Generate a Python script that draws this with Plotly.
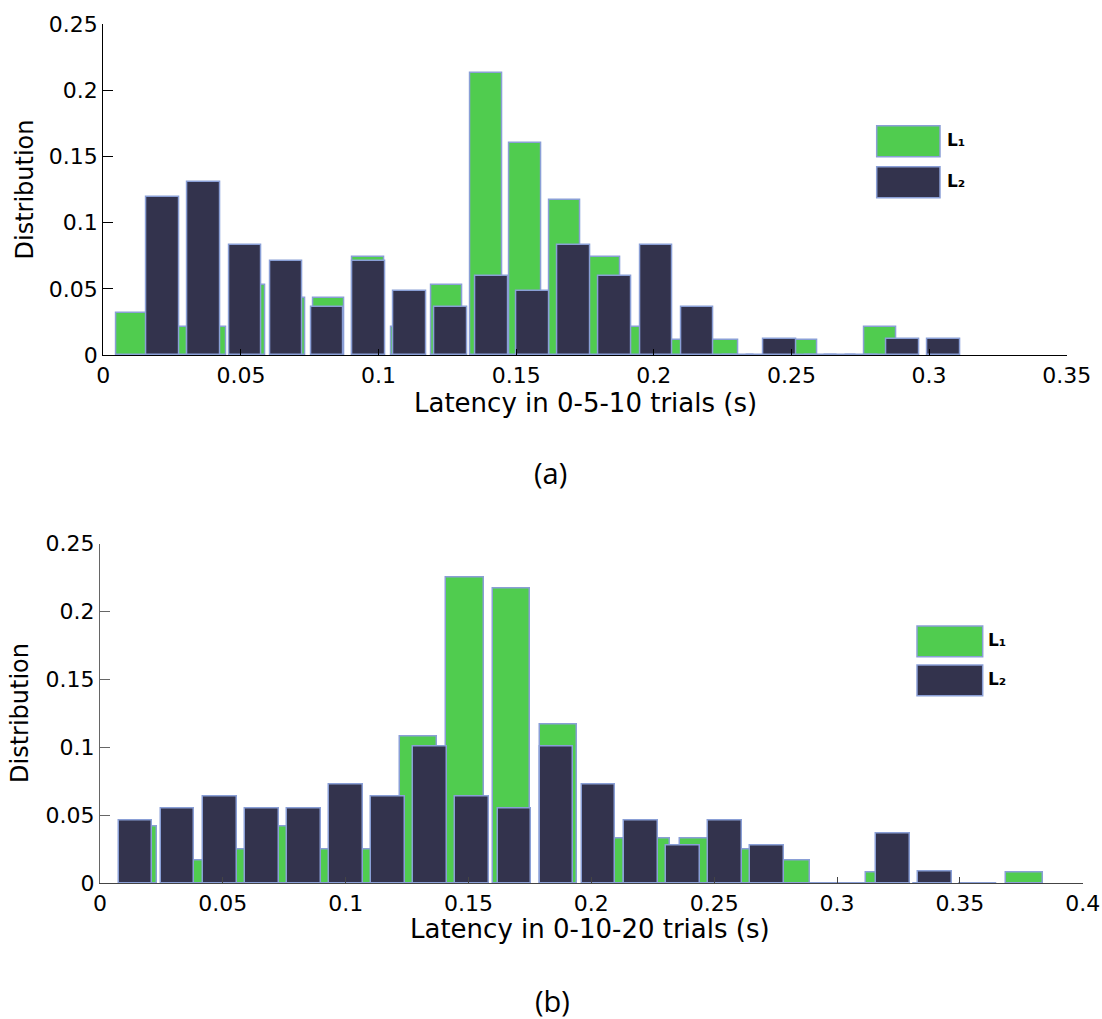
import plotly.graph_objects as go

# ---------------- data ----------------
# (a) Latency in 0-5-10 trials
a_L1_x = [0.0104, 0.0247, 0.0390, 0.0533, 0.0676, 0.0819, 0.0962, 0.1105, 0.1248, 0.1391,
          0.1534, 0.1677, 0.1820, 0.1963, 0.2106, 0.2249, 0.2392, 0.2535, 0.2678, 0.2822]
a_L1_y = [0.032, 0.021, 0.021, 0.053, 0.043, 0.043, 0.074, 0.021, 0.053, 0.213,
          0.160, 0.117, 0.074, 0.021, 0.011, 0.011, 0.0, 0.011, 0.0, 0.021]
a_L2_x = [0.0217, 0.0366, 0.0516, 0.0665, 0.0814, 0.0964, 0.1113, 0.1262, 0.1411, 0.1561,
          0.1710, 0.1859, 0.2009, 0.2158, 0.2307, 0.2457, 0.2606, 0.2755, 0.2905, 0.3054]
a_L2_y = [0.119, 0.131, 0.083, 0.071, 0.036, 0.071, 0.048, 0.036, 0.060, 0.048,
          0.083, 0.060, 0.083, 0.036, 0.0, 0.012, 0.0, 0.0, 0.012, 0.012]

# (b) Latency in 0-10-20 trials
b_L1_x = [0.0158, 0.0348, 0.0537, 0.0727, 0.0917, 0.1107, 0.1297, 0.1486, 0.1676, 0.1866,
          0.2056, 0.2246, 0.2435, 0.2625, 0.2815, 0.3005, 0.3195, 0.3384, 0.3574, 0.3764]
b_L1_y = [0.042, 0.017, 0.025, 0.042, 0.025, 0.025, 0.108, 0.225, 0.217, 0.117,
          0.033, 0.033, 0.033, 0.025, 0.017, 0.0, 0.008, 0.0, 0.0, 0.008]
b_L2_x = [0.0145, 0.0316, 0.0488, 0.0659, 0.0830, 0.1002, 0.1173, 0.1344, 0.1515, 0.1687,
          0.1858, 0.2029, 0.2201, 0.2372, 0.2543, 0.2715, 0.2886, 0.3057, 0.3228, 0.3400]
b_L2_y = [0.046, 0.055, 0.064, 0.055, 0.055, 0.073, 0.064, 0.101, 0.064, 0.055,
          0.101, 0.073, 0.046, 0.028, 0.046, 0.028, 0.0, 0.0, 0.037, 0.009]

a_xticks = [0, 0.05, 0.1, 0.15, 0.2, 0.25, 0.3, 0.35]
a_xticktext = ["0", "0.05", "0.1", "0.15", "0.2", "0.25", "0.3", "0.35"]
b_xticks = [0, 0.05, 0.1, 0.15, 0.2, 0.25, 0.3, 0.35, 0.4]
b_xticktext = ["0", "0.05", "0.1", "0.15", "0.2", "0.25", "0.3", "0.35", "0.4"]
yticks = [0, 0.05, 0.1, 0.15, 0.2, 0.25]
yticktext = ["0", "0.05", "0.1", "0.15", "0.2", "0.25"]

series_names = ["L\u2081", "L\u2082"]

# ---------------- style ----------------
W, H = 1102, 1019
GREEN = "#50cc4f"
DARK = "#33334d"
EDGE = "#8a9fd6"
FONT = "DejaVu Sans"
A_W1, A_W2 = 0.01145, 0.01194
B_W1, B_W2 = 0.0152, 0.0137


def px(x):
    return x / W


def py(y):
    return 1 - y / H


fig = go.Figure()


def bar(x, y, w, color, xa, ya, name):
    fig.add_trace(go.Bar(
        x=x, y=y, width=w, name=name, xaxis=xa, yaxis=ya, showlegend=False,
        marker=dict(color=color, line=dict(color=EDGE, width=1.5)),
    ))


bar(a_L1_x, a_L1_y, A_W1, GREEN, "x", "y", "L1")
bar(a_L2_x, a_L2_y, A_W2, DARK, "x", "y", "L2")
bar(b_L1_x, b_L1_y, B_W1, GREEN, "x2", "y2", "L1")
bar(b_L2_x, b_L2_y, B_W2, DARK, "x2", "y2", "L2")

tickfont = dict(family=FONT, size=22, color="black")


def xax(domain, rng, tv, tt, anchor, lc):
    return dict(domain=domain, range=rng, anchor=anchor, tickvals=tv, ticktext=tt,
                ticks="inside", ticklen=6, tickcolor=lc, showline=True, linecolor=lc,
                linewidth=1.3, showgrid=False, zeroline=False, tickfont=tickfont,
                fixedrange=True, automargin=False)


def yax(domain, anchor, lc):
    return dict(domain=domain, range=[0, 0.25], anchor=anchor, tickvals=yticks,
                ticktext=yticktext, ticks="inside", ticklen=10, tickcolor=lc,
                showline=True, linecolor=lc, linewidth=1.3, showgrid=False,
                zeroline=False, tickfont=tickfont, fixedrange=True, automargin=False)


fig.update_layout(
    width=W, height=H, autosize=False,
    margin=dict(l=0, r=0, t=0, b=0, pad=0),
    paper_bgcolor="white", plot_bgcolor="white",
    barmode="overlay", bargap=0,
    xaxis=xax([px(103.3), px(1066.7)], [0, 0.35], a_xticks, a_xticktext, "y", "black"),
    yaxis=yax([py(355), py(24)], "x", "black"),
    xaxis2=xax([px(100), px(1082.7)], [0, 0.4], b_xticks, b_xticktext, "y2", "#444444"),
    yaxis2=yax([py(883.3), py(543.5)], "x2", "#666666"),
)

shapes = []
annotations = []

# axis titles and panel labels
annotations += [
    dict(text="Latency in 0-5-10 trials (s)", x=px(585), y=py(403), xref="paper", yref="paper",
         showarrow=False, xanchor="center", yanchor="middle",
         font=dict(family=FONT, size=26, color="black")),
    dict(text="Latency in 0-10-20 trials (s)", x=px(590), y=py(929), xref="paper", yref="paper",
         showarrow=False, xanchor="center", yanchor="middle",
         font=dict(family=FONT, size=26, color="black")),
    dict(text="Distribution", x=px(24.5), y=py(190), xref="paper", yref="paper", textangle=-90,
         showarrow=False, xanchor="center", yanchor="middle",
         font=dict(family=FONT, size=24, color="black")),
    dict(text="Distribution", x=px(19.5), y=py(713.5), xref="paper", yref="paper", textangle=-90,
         showarrow=False, xanchor="center", yanchor="middle",
         font=dict(family=FONT, size=24, color="black")),
    dict(text="(a)", x=px(550), y=py(473), xref="paper", yref="paper",
         showarrow=False, xanchor="center", yanchor="middle",
         font=dict(family="Open Sans", size=29, color="black")),
    dict(text="(b)", x=px(552), y=py(1000), xref="paper", yref="paper",
         showarrow=False, xanchor="center", yanchor="middle",
         font=dict(family="Open Sans", size=29, color="black")),
]

# custom legends (large swatches as in the original)
legends = [
    (876.7, 940.0, [(125.7, 156.7), (166.7, 197.7)], 945),
    (917.0, 982.7, [(626.0, 656.7), (665.0, 695.7)], 986),
]
for x0, x1, rows, lx in legends:
    for (y0, y1), col, name in zip(rows, [GREEN, DARK], series_names):
        shapes.append(dict(type="rect", xref="paper", yref="paper",
                           x0=px(x0), x1=px(x1), y0=py(y1), y1=py(y0),
                           fillcolor=col, line=dict(color=EDGE, width=1.5)))
        annotations.append(dict(text="<b>" + name + "</b>", x=px(lx), y=py((y0 + y1) / 2 - 1),
                                xref="paper", yref="paper", showarrow=False,
                                xanchor="left", yanchor="middle",
                                font=dict(family="DejaVu Sans", size=17, color="black")))

fig.update_layout(shapes=shapes, annotations=annotations)

fig.write_html("out.html", config={"displayModeBar": False},
               post_script="document.body.style.margin='0';document.body.style.overflow='hidden';")
